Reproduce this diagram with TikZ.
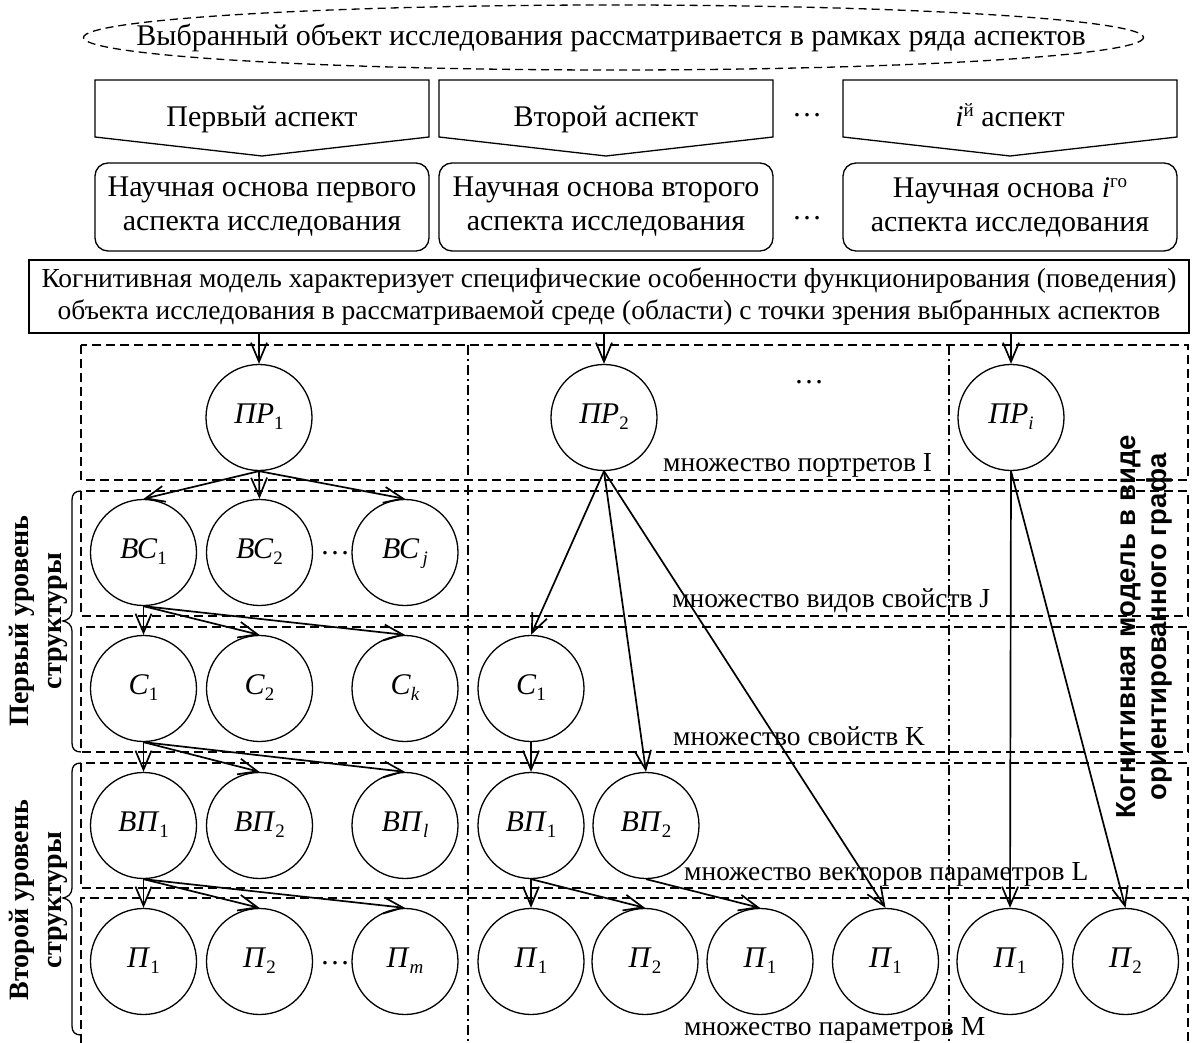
\documentclass[tikz,border=0pt]{standalone}
\usepackage{fontspec}
\setmainfont{Liberation Serif}
\newfontfamily\sansfam{Liberation Sans}
\usetikzlibrary{shapes.geometric, arrows.meta}
\newcommand{\lb}[2]{\textit{#1}\raisebox{-6pt}{\fontsize{19}{19}\selectfont #2}}
\newcommand{\sps}[1]{\raisebox{10pt}{\fontsize{19}{19}\selectfont #1}}
\begin{document}
\begin{tikzpicture}[x=1pt,y=-1pt,
  every node/.style={font=\fontsize{30}{34}\selectfont},
  vert/.style={circle, draw, line width=1.3pt, minimum size=106pt, inner sep=0pt, text height=20pt, text depth=9pt},
  arr/.style={line width=1.7pt, -{Straight Barb[length=19pt,width=16pt,line width=1.7pt]}},
  zone/.style={line width=1.3pt, dash pattern=on 9pt off 5pt},
  sepline/.style={line width=1.3pt, dash pattern=on 10pt off 4pt on 2pt off 4pt},
  shapebox/.style={line width=1.3pt},
  rbox/.style={draw, line width=1.3pt, rounded corners=13pt, minimum width=334pt, minimum height=88pt, align=center, inner sep=0pt},
  setlab/.style={anchor=base west, inner sep=0pt, font=\fontsize{27.5}{30}\selectfont},
  dotlab/.style={inner sep=0pt}]
\useasboundingbox (0,0) rectangle (1192,1043);

% top ellipse
\draw[line width=1.3pt, dash pattern=on 8pt off 5pt] (613.5,37.5) ellipse [x radius=530, y radius=32.5];
\node[anchor=base] (topt) at (611,46) {Выбранный объект исследования рассматривается в рамках ряда аспектов};

% aspect pentagons
\draw[shapebox] (95,80) -- (429,80) -- (429,137) -- (262,156) -- (95,137) -- cycle;
\draw[shapebox] (439,80) -- (773,80) -- (773,137) -- (606,156) -- (439,137) -- cycle;
\draw[shapebox] (843,80) -- (1177,80) -- (1177,137) -- (1010,156) -- (843,137) -- cycle;
\node[anchor=base] (a1) at (262,127) {Первый аспект};
\node[anchor=base] (a2) at (606,127) {Второй аспект};
\node[anchor=base] (a3) at (1010,127) {\textit{i}\sps{й} аспект};
\node[dotlab] (ad) at (807,115) {…};

% scientific basis boxes
\node[rbox] (b1) at (262,207) {Научная основа первого\\аспекта исследования};
\node[rbox] (b2) at (606,207) {Научная основа второго\\аспекта исследования};
\node[rbox] (b3) at (1010,207) {Научная основа \textit{i}\sps{го}\\аспекта исследования};
\node[dotlab] (bd) at (807,218) {…};

% cognitive model box
\node[draw, line width=1.3pt, minimum width=1160pt, minimum height=73pt, align=center, inner sep=0pt,
  font=\fontsize{27.5}{32}\selectfont] (cog) at (609,296.5)
  {Когнитивная модель характеризует специфические особенности функционирования (поведения)\\объекта исследования в рассматриваемой среде (области) с точки зрения выбранных аспектов};

% zones
\draw[zone] (81,345) rectangle (1188,480);
\draw[zone] (81,491) rectangle (1188,616);
\draw[zone] (81,627) rectangle (1188,752);
\draw[zone] (81,763) rectangle (1188,888);
\draw[zone] (81,1043) -- (81,898) -- (1188,898) -- (1188,1043);
\draw[sepline] (468,345) -- (468,1043);
\draw[sepline] (949,345) -- (949,1043);

% set labels
\node[setlab] (l1) at (663,471) {множество портретов I};
\node[setlab] (l2) at (672,607) {множество видов свойств J};
\node[setlab] (l3) at (673,745) {множество свойств K};
\node[setlab] (l4) at (684,880) {множество векторов параметров L};
\node[setlab] (l5) at (684,1035) {множество параметров M};

% vertices
\node[vert] (PR1) at (259,417.5) {\lb{ПР}{1}};
\node[vert] (PR2) at (604,417.5) {\lb{ПР}{2}};
\node[vert] (PRi) at (1011,417.5) {\lb{ПР}{\textit{i}}};
\node[dotlab] (rd) at (809,382) {…};

\node[vert] (BC1) at (143.5,552.5) {\lb{ВС}{1}};
\node[vert] (BC2) at (259.5,552.5) {\lb{ВС}{2}};
\node[vert] (BCj) at (405,552.5) {\lb{ВС}{\,\textit{j}}};
\node[dotlab] (cd) at (335,553) {…};

\node[vert] (C1) at (143.5,688.5) {\lb{С}{1}};
\node[vert] (C2) at (259.5,688.5) {\lb{С}{2}};
\node[vert] (Ck) at (405,688.5) {\lb{С}{\textit{k}}};
\node[vert] (C1b) at (531,688.5) {\lb{С}{1}};

\node[vert] (VP1) at (143.5,825.5) {\lb{ВП}{1}};
\node[vert] (VP2) at (259.5,825.5) {\lb{ВП}{2}};
\node[vert] (VPl) at (405,825.5) {\lb{ВП}{\textit{l}}};
\node[vert] (VP1b) at (531,825.5) {\lb{ВП}{1}};
\node[vert] (VP2b) at (646,825.5) {\lb{ВП}{2}};

\node[vert] (P1) at (143.5,961.5) {\lb{П}{1}};
\node[vert] (P2) at (259.5,961.5) {\lb{П}{2}};
\node[vert] (Pm) at (405,961.5) {\lb{П}{\textit{m}}};
\node[dotlab] (pd) at (335,963) {…};
\node[vert] (P1b) at (531,961.5) {\lb{П}{1}};
\node[vert] (P2b) at (645,961.5) {\lb{П}{2}};
\node[vert] (P1c) at (760,961.5) {\lb{П}{1}};
\node[vert] (P1d) at (885.5,961.5) {\lb{П}{1}};
\node[vert] (P1e) at (1010,961.5) {\lb{П}{1}};
\node[vert] (P2e) at (1125.5,961.5) {\lb{П}{2}};

% arrows
\draw[arr] (PR1.north |- cog.south) -- (PR1.north);
\draw[arr] (PR2.north |- cog.south) -- (PR2.north);
\draw[arr] (PRi.north |- cog.south) -- (PRi.north);

\draw[arr] (PR1.south) -- (BC1.north);
\draw[arr] (PR1.south) -- (BC2.north);
\draw[arr] (PR1.south) -- (BCj.north);
\draw[arr] (BC1.south) -- (C1.north);
\draw[arr] (BC1.south) -- (C2.north);
\draw[arr] (BC1.south) -- (Ck.north);
\draw[arr] (C1.south) -- (VP1.north);
\draw[arr] (C1.south) -- (VP2.north);
\draw[arr] (C1.south) -- (VPl.north);
\draw[arr] (VP1.south) -- (P1.north);
\draw[arr] (VP1.south) -- (P2.north);
\draw[arr] (VP1.south) -- (Pm.north);

\draw[arr] (PR2.south) -- (C1b.north);
\draw[arr] (PR2.south) -- (VP2b.north);
\draw[arr] (PR2.south) -- (P1d.north);
\draw[arr] (C1b.south) -- (VP1b.north);
\draw[arr] (VP1b.south) -- (P1b.north);
\draw[arr] (VP1b.south) -- (P2b.north);
\draw[arr] (VP2b.south) -- (P1c.north);

\draw[arr] (PRi.south) -- (P1e.north);
\draw[arr] (PRi.south) -- (P2e.north);

% side labels and braces
\draw[line width=1.3pt] (81,491) .. controls (75,491) and (72,494) .. (72,500) -- (72,611)
  .. controls (72,617) and (68,620) .. (63,621) .. controls (68,622) and (72,625) .. (72,631)
  -- (72,743) .. controls (72,749) and (75,752) .. (81,752);
\draw[line width=1.3pt] (81,763) .. controls (75,763) and (72,766) .. (72,772) -- (72,888)
  .. controls (72,894) and (68,897) .. (63,898) .. controls (68,899) and (72,902) .. (72,908)
  -- (72,1026) .. controls (72,1032) and (75,1035) .. (81,1035);
\node[rotate=90, align=center, font=\bfseries\fontsize{28}{33}\selectfont] (lev1) at (38,621) {Первый уровень\\структуры};
\node[rotate=90, align=center, font=\bfseries\fontsize{28}{33}\selectfont] (lev2) at (38,900) {Второй уровень\\структуры};
\node[rotate=90, align=center, font=\sansfam\bfseries\fontsize{27.5}{31}\selectfont] (graph) at (1144,627) {Когнитивная модель в виде\\ориентированного графа};
\end{tikzpicture}
\end{document}
